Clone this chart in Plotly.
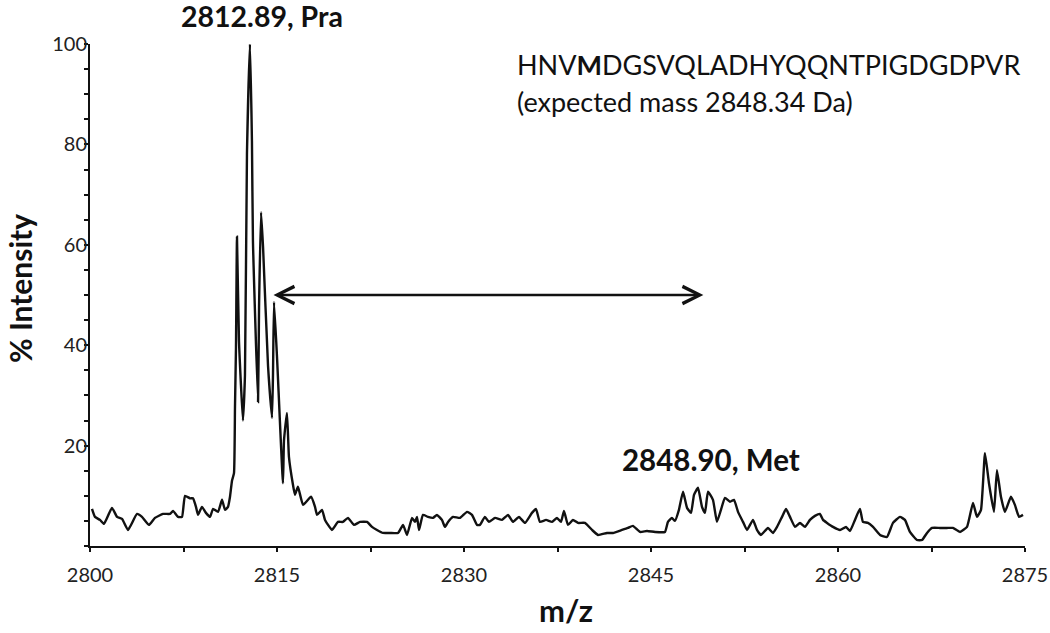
import plotly.graph_objects as go

# m/z values and % intensity
mz = [2800.16, 2800.40, 2800.80, 2801.12, 2801.76, 2802.17, 2802.57, 2803.05, 2803.77, 2804.17,
      2804.73, 2805.21, 2805.86, 2806.42, 2806.66, 2807.06, 2807.38, 2807.62, 2808.02, 2808.26,
      2808.50, 2808.66, 2808.98, 2809.30, 2809.63, 2809.87, 2810.27, 2810.59, 2810.83, 2811.07,
      2811.23, 2811.39, 2811.55, 2811.63, 2811.71, 2811.79, 2811.95, 2812.27, 2812.43, 2812.59,
      2812.83, 2812.99, 2813.07, 2813.48, 2813.56, 2813.72, 2813.88, 2814.28, 2814.60, 2814.68,
      2814.76, 2815.00, 2815.48, 2815.56, 2815.80, 2815.96, 2816.28, 2816.44, 2816.68, 2817.09,
      2817.73, 2818.05, 2818.21, 2818.61, 2818.85, 2819.41, 2819.89, 2820.29, 2820.69, 2821.18,
      2821.66, 2822.22, 2822.62, 2823.02, 2823.50, 2824.06, 2824.71, 2825.11, 2825.43, 2825.83,
      2826.07, 2826.23, 2826.39, 2826.71, 2827.11, 2827.51, 2827.83, 2828.23, 2828.47, 2828.72,
      2829.12, 2829.68, 2830.24, 2830.64, 2831.04, 2831.28, 2831.68, 2832.00, 2832.49, 2833.05,
      2833.53, 2833.93, 2834.41, 2834.89, 2835.45, 2835.77, 2836.09, 2836.58, 2837.06, 2837.46,
      2837.78, 2838.02, 2838.34, 2838.74, 2839.14, 2839.70, 2840.27, 2840.75, 2841.47, 2841.95,
      2842.67, 2843.15, 2843.55, 2844.12, 2844.68, 2845.32, 2846.12, 2846.36, 2846.68, 2846.92,
      2847.24, 2847.57, 2847.89, 2848.21, 2848.45, 2848.77, 2849.09, 2849.33, 2849.57, 2849.97,
      2850.29, 2850.61, 2850.93, 2851.34, 2851.66, 2851.98, 2852.38, 2852.70, 2853.18, 2853.50,
      2853.82, 2854.38, 2854.78, 2855.11, 2855.51, 2855.83, 2856.15, 2856.55, 2856.95, 2857.35,
      2857.75, 2858.15, 2858.55, 2858.80, 2859.12, 2859.60, 2860.16, 2860.64, 2860.96, 2861.36,
      2861.76, 2862.00, 2862.40, 2862.81, 2863.37, 2863.93, 2864.41, 2864.97, 2865.37, 2865.77,
      2866.33, 2866.74, 2867.14, 2867.54, 2868.18, 2868.74, 2869.22, 2869.78, 2870.35, 2870.83,
      2871.15, 2871.47, 2871.79, 2872.11, 2872.51, 2872.75, 2873.07, 2873.39, 2873.87, 2874.19,
      2874.52, 2874.84]

intensity = [7.4, 5.8, 5.2, 4.4, 7.6, 5.8, 5.4, 3.2, 6.4, 5.8,
             4.2, 5.6, 6.4, 6.4, 7.0, 5.8, 5.8, 10.0, 9.5, 9.5,
             7.8, 6.2, 7.8, 6.6, 5.8, 7.4, 6.8, 9.2, 7.2, 7.8,
             9.8, 13.0, 14.5, 27.7, 39.6, 61.6, 40.8, 25.0, 34.0, 78.0,
             100.0, 80.7, 60.8, 28.7, 47.6, 66.5, 59.6, 35.9, 25.5, 34.3,
             48.6, 37.7, 12.5, 21.0, 26.5, 17.7, 12.2, 10.2, 11.8, 8.2,
             9.8, 7.8, 6.2, 7.2, 5.2, 3.2, 4.8, 4.8, 5.6, 4.2,
             4.8, 4.8, 3.8, 3.2, 2.6, 2.6, 2.6, 4.2, 2.2, 5.6,
             4.8, 5.8, 3.2, 6.2, 5.8, 5.6, 6.2, 5.2, 3.8, 4.8,
             5.8, 5.6, 6.8, 6.2, 4.2, 4.2, 5.8, 4.8, 5.6, 5.2,
             6.2, 4.8, 5.8, 4.6, 6.6, 7.4, 4.8, 5.2, 4.8, 5.6,
             4.8, 7.0, 4.2, 5.2, 4.6, 4.6, 3.2, 2.2, 2.6, 2.6,
             3.2, 3.6, 4.0, 2.8, 3.0, 2.8, 2.8, 4.8, 5.6, 5.0,
             7.2, 10.8, 7.6, 6.6, 10.2, 11.6, 7.8, 6.6, 10.8, 9.2,
             4.8, 7.2, 9.6, 8.8, 9.2, 6.8, 4.8, 3.2, 5.2, 3.2,
             2.2, 3.6, 2.6, 3.8, 5.8, 7.4, 5.8, 3.8, 4.6, 3.8,
             5.2, 6.0, 6.4, 5.2, 4.6, 3.8, 3.2, 3.8, 3.0, 5.2,
             7.4, 4.8, 4.6, 3.8, 2.2, 1.8, 4.6, 5.8, 5.2, 2.8,
             1.2, 1.2, 2.6, 3.6, 3.6, 3.6, 3.6, 2.8, 3.8, 8.6,
             5.8, 7.2, 18.5, 12.5, 6.8, 15.1, 9.8, 6.8, 9.8, 8.2,
             5.8, 6.2]

x_ticks = [2800, 2815, 2830, 2845, 2860, 2875]
y_ticks = [20, 40, 60, 80, 100]

FONT = "Lato"
INK = "#111111"

fig = go.Figure()
fig.add_trace(go.Scatter(x=mz, y=intensity, mode="lines",
                         line=dict(color=INK, width=2.4, shape="spline", smoothing=0.4),
                         cliponaxis=False, hoverinfo="skip", showlegend=False))

# peak labels
fig.add_annotation(x=2813.8, xref="x", y=1.056, yref="paper", yanchor="middle",
                   text="<b>2812.89, Pra</b>", showarrow=False,
                   font=dict(family=FONT, size=28.5, color=INK))
fig.add_annotation(x=2849.8, y=17.3, yanchor="middle", text="<b>2848.90, Met</b>",
                   showarrow=False, font=dict(family=FONT, size=29.5, color=INK))

# peptide sequence
fig.add_annotation(x=2834.1, y=96.0, xanchor="left", yanchor="middle",
                   text="HNV<b>M</b>DGSVQLADHYQQNTPIGDGDPVR",
                   showarrow=False, font=dict(family=FONT, size=27, color=INK))
fig.add_annotation(x=2834.1, y=88.5, xanchor="left", yanchor="middle",
                   text="(expected mass 2848.34 Da)",
                   showarrow=False, font=dict(family=FONT, size=27, color=INK))

# double arrow between the two peaks
fig.add_annotation(x=2849.2, y=50, ax=2814.6, ay=50, axref="x", ayref="y",
                   text="", showarrow=True, arrowside="end+start", arrowhead=5,
                   arrowsize=1.3, arrowwidth=2.6, arrowcolor=INK)

# axis titles
fig.add_annotation(x=0, xref="paper", xanchor="center", xshift=-70, y=0.512, yref="paper",
                   yanchor="middle", textangle=-90, text="<b>% Intensity</b>", showarrow=False,
                   font=dict(family=FONT, size=30, color=INK))
fig.add_annotation(x=0.509, xref="paper", xanchor="center", y=0, yref="paper", yshift=-64,
                   yanchor="middle", text="<b>m/z</b>", showarrow=False,
                   font=dict(family=FONT, size=31, color=INK))

axis_style = dict(showline=True, linewidth=2, linecolor=INK, ticks="outside", ticklen=4,
                  tickwidth=1.5, tickcolor=INK, showgrid=False, zeroline=False,
                  automargin=False, tickfont=dict(family=FONT, size=20, color="#222"))

fig.update_xaxes(range=[2800, 2875], tickvals=x_ticks, ticklabelstandoff=6,
                 minor=dict(dtick=7.5, tick0=2800, ticks="outside", ticklen=4, tickcolor=INK),
                 **axis_style)
fig.update_yaxes(range=[0, 100], tickvals=y_ticks, ticklabelstandoff=-7,
                 minor=dict(dtick=5, tick0=0, ticks="outside", ticklen=4, tickcolor=INK),
                 **axis_style)

fig.update_layout(width=1050, height=633, plot_bgcolor="white", paper_bgcolor="white",
                  margin=dict(l=90, r=25, t=44, b=87))

# drop the default 8 px page margin so the figure sits at the window's corner
fig.write_html("out.html", config={"displayModeBar": False},
               post_script="document.body.style.margin='0';document.body.style.overflow='hidden';")
